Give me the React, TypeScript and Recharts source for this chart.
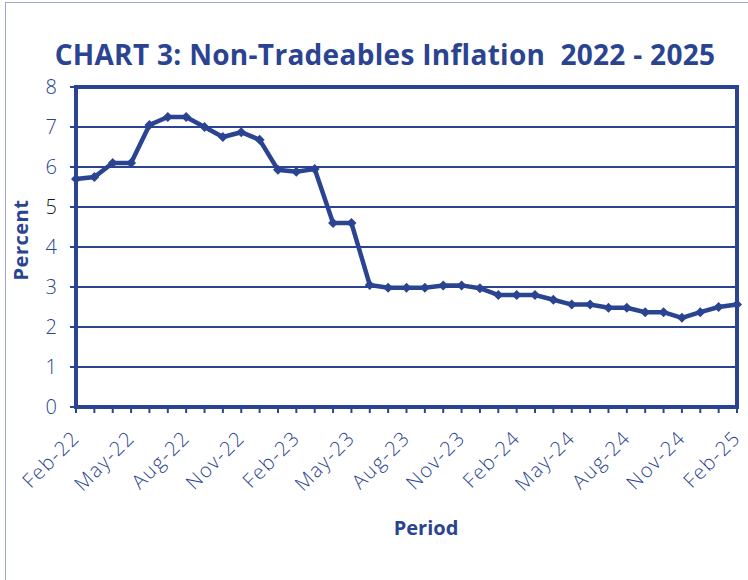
import { LineChart, Line, XAxis, YAxis, CartesianGrid, ReferenceArea, Label } from 'recharts'

const NAVY = '#2b4492'

const months = [
  'Feb-22', 'Mar-22', 'Apr-22', 'May-22', 'Jun-22', 'Jul-22', 'Aug-22', 'Sep-22', 'Oct-22', 'Nov-22', 'Dec-22',
  'Jan-23', 'Feb-23', 'Mar-23', 'Apr-23', 'May-23', 'Jun-23', 'Jul-23', 'Aug-23', 'Sep-23', 'Oct-23', 'Nov-23', 'Dec-23',
  'Jan-24', 'Feb-24', 'Mar-24', 'Apr-24', 'May-24', 'Jun-24', 'Jul-24', 'Aug-24', 'Sep-24', 'Oct-24', 'Nov-24', 'Dec-24',
  'Jan-25', 'Feb-25',
]

const inflation = [
  5.7, 5.75, 6.1, 6.1, 7.05, 7.25, 7.25, 7.0, 6.75, 6.87, 6.68,
  5.93, 5.88, 5.95, 4.6, 4.6, 3.05, 2.98, 2.98, 2.98, 3.04, 3.04, 2.97,
  2.8, 2.8, 2.8, 2.68, 2.56, 2.56, 2.48, 2.48, 2.37, 2.37, 2.23, 2.37,
  2.5, 2.56,
]

const yTicks = [0, 1, 2, 3, 4, 5, 6, 7, 8]

const data = months.map((m, i) => ({ month: m, value: inflation[i] }))

const FONT = '"Open Sans", Lato, sans-serif'

function MonthTick(props: any) {
  const { x, y, payload, index } = props
  if (index % 3 !== 0) return null
  return (
    <g transform={`translate(${x + 5},${y + 24})`}>
      <text
        x={0}
        y={0}
        textAnchor="end"
        transform="rotate(-45)"
        fill={NAVY}
        fontSize={20}
        fontFamily={FONT}
        fontWeight={300}
        letterSpacing={1.5}
      >
        {payload.value}
      </text>
    </g>
  )
}

function PercentTick(props: any) {
  const { x, y, payload } = props
  return (
    <text
      x={x}
      y={y}
      dy="0.36em"
      textAnchor="end"
      fill={payload.value === 5 ? '#1a1a1a' : NAVY}
      fontSize={20}
      fontFamily={FONT}
      fontWeight={300}
    >
      {payload.value}
    </text>
  )
}

function Diamond(props: any) {
  const { cx, cy } = props
  if (cx == null || cy == null) return null
  const r = 5
  return <path d={`M${cx},${cy - r}L${cx + r},${cy}L${cx},${cy + r}L${cx - r},${cy}Z`} fill={NAVY} />
}

export default function App() {
  return (
    <div style={{ position: 'absolute', left: 0, top: 0, width: 748, height: 580, background: '#fff' }}>
      <div
        style={{
          position: 'absolute',
          left: 5,
          top: 2,
          width: 760,
          height: 600,
          borderLeft: '1.5px solid #9ea6d8',
          borderTop: '1.5px solid #9ea6d8',
        }}
      />
      <svg width={748} height={80} style={{ position: 'absolute', left: 0, top: 0 }}>
        <text
          x={385}
          y={65}
          textAnchor="middle"
          fill={NAVY}
          fontSize={28}
          fontWeight={700}
          fontFamily={FONT}
          letterSpacing={0.3}
          style={{ whiteSpace: 'pre' }}
        >
          {'CHART 3: Non-Tradeables Inflation  2022 - 2025'}
        </text>
      </svg>
      <div style={{ position: 'absolute', left: 0, top: 0 }}>
        <LineChart width={748} height={580} data={data} margin={{ top: 87, right: 11, left: 0, bottom: 0 }}>
          <CartesianGrid vertical={false} stroke={NAVY} strokeWidth={2} />
          <XAxis
            dataKey="month"
            interval={0}
            height={173}
            tick={<MonthTick />}
            tickSize={6}
            tickLine={{ stroke: NAVY, strokeWidth: 2 }}
            axisLine={{ stroke: NAVY, strokeWidth: 4 }}
          >
            <Label
              content={() => (
                <text
                  x={426}
                  y={535}
                  textAnchor="middle"
                  fill={NAVY}
                  fontSize={20}
                  fontWeight={700}
                  fontFamily={FONT}
                >
                  Period
                </text>
              )}
            />
          </XAxis>
          <YAxis
            domain={[0, 8]}
            ticks={yTicks}
            width={76}
            tickSize={6}
            tickMargin={13}
            tick={<PercentTick />}
            tickLine={{ stroke: NAVY, strokeWidth: 2 }}
            axisLine={{ stroke: NAVY, strokeWidth: 4 }}
          >
            <Label
              content={() => (
                <text
                  x={28}
                  y={240}
                  textAnchor="middle"
                  transform="rotate(-90 28 240)"
                  fill={NAVY}
                  fontSize={20}
                  fontWeight={700}
                  fontFamily={FONT}
                  letterSpacing={0.5}
                >
                  Percent
                </text>
              )}
            />
          </YAxis>
          <ReferenceArea
            x1={months[0]}
            x2={months[months.length - 1]}
            y1={0}
            y2={8}
            fill="none"
            fillOpacity={0}
            stroke={NAVY}
            strokeWidth={4}
          />
          <Line
            type="linear"
            dataKey="value"
            stroke={NAVY}
            strokeWidth={4.5}
            dot={<Diamond />}
            isAnimationActive={false}
          />
        </LineChart>
      </div>
    </div>
  )
}
